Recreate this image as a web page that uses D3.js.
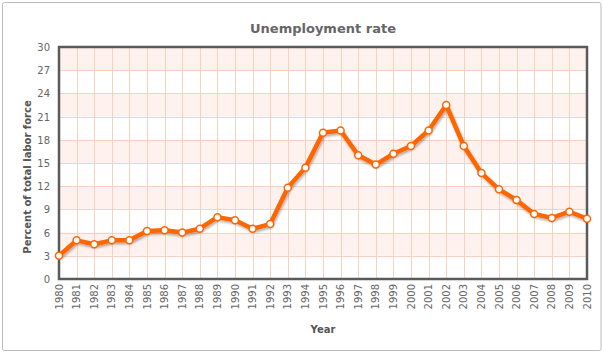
<!DOCTYPE html>
<html lang="en">
	<head>
		<meta charset="utf-8">
		<title>Unemployment rate</title>
		<script type="text/javascript" src="https://d3js.org/d3.v7.min.js"></script>
		<style type="text/css">
			body { margin: 0; background: #fff; }
			text { font-family: "DejaVu Sans", Verdana, sans-serif; }
			.tick-label { font-size: 10px; fill: #666; }
			.axis-title { font-size: 10px; font-weight: bold; fill: #555; }
			.title { font-size: 13px; font-weight: bold; fill: #666; }
		</style>
	</head>
	<body>
		<script type="text/javascript">

			// Data
			var years = [1980, 1981, 1982, 1983, 1984, 1985, 1986, 1987, 1988, 1989,
			             1990, 1991, 1992, 1993, 1994, 1995, 1996, 1997, 1998, 1999,
			             2000, 2001, 2002, 2003, 2004, 2005, 2006, 2007, 2008, 2009, 2010];
			var rates = [3.0, 5.0, 4.5, 5.0, 5.0, 6.2, 6.3, 6.0, 6.5, 8.0,
			             7.6, 6.5, 7.1, 11.8, 14.4, 18.9, 19.2, 16.0, 14.8, 16.2,
			             17.2, 19.2, 22.5, 17.2, 13.7, 11.6, 10.2, 8.4, 7.9, 8.7, 7.8];
			var yTicks = [0, 3, 6, 9, 12, 15, 18, 21, 24, 27, 30];

			var w = 604;
			var h = 352;
			var plot = {left: 59, right: 587, top: 47, bottom: 279};

			var x = d3.scaleLinear()
						.domain([years[0], years[years.length - 1]])
						.range([plot.left, plot.right]);
			var y = d3.scaleLinear()
						.domain([0, 30])
						.range([plot.bottom, plot.top]);

			var svg = d3.select("body")
						.append("svg")
						.attr("width", w)
						.attr("height", h);

			var defs = svg.append("defs");
			var shadow = defs.append("filter")
						.attr("id", "shadow")
						.attr("x", "-5%").attr("y", "-5%")
						.attr("width", "110%").attr("height", "120%");
			shadow.append("feGaussianBlur").attr("in", "SourceAlpha").attr("stdDeviation", 1.2);
			shadow.append("feOffset").attr("dx", 1).attr("dy", 2).attr("result", "off");
			shadow.append("feComponentTransfer").append("feFuncA").attr("type", "linear").attr("slope", 0.3);
			var merge = shadow.append("feMerge");
			merge.append("feMergeNode");
			merge.append("feMergeNode").attr("in", "SourceGraphic");

			//Outer border
			svg.append("rect")
				.attr("x", 2.5).attr("y", 2.5)
				.attr("width", 598.5).attr("height", 348)
				.attr("rx", 2)
				.attr("fill", "#fff")
				.attr("stroke", "#bbb");

			//Alternating bands
			svg.selectAll("rect.band")
				.data(yTicks.slice(0, -1).filter(function(d, i) { return i % 2 == 1; }))
				.enter()
				.append("rect")
				.attr("class", "band")
				.attr("x", plot.left)
				.attr("width", plot.right - plot.left)
				.attr("y", function(d) { return y(d + 3); })
				.attr("height", function(d) { return y(d) - y(d + 3); })
				.attr("fill", "#fff2ee");

			//Grid
			svg.selectAll("line.vgrid")
				.data(years)
				.enter()
				.append("line")
				.attr("x1", function(d) { return Math.round(x(d)) + 0.5; })
				.attr("x2", function(d) { return Math.round(x(d)) + 0.5; })
				.attr("y1", plot.top)
				.attr("y2", plot.bottom)
				.attr("stroke", "#f5d2c0")
				.attr("stroke-width", 1);

			svg.selectAll("line.hgrid")
				.data(yTicks)
				.enter()
				.append("line")
				.attr("x1", plot.left)
				.attr("x2", plot.right)
				.attr("y1", function(d) { return Math.round(y(d)) + 0.5; })
				.attr("y2", function(d) { return Math.round(y(d)) + 0.5; })
				.attr("stroke", "#f5d2c0")
				.attr("stroke-width", 1);

			//Frame
			svg.append("rect")
				.attr("x", plot.left).attr("y", plot.top)
				.attr("width", plot.right - plot.left)
				.attr("height", plot.bottom - plot.top)
				.attr("fill", "none")
				.attr("stroke", "#5a5a5a")
				.attr("stroke-width", 2.5);

			//Y tick labels
			svg.selectAll("text.ylab")
				.data(yTicks)
				.enter()
				.append("text")
				.attr("class", "tick-label")
				.attr("x", 50)
				.attr("y", function(d) { return y(d) + 4; })
				.attr("text-anchor", "end")
				.text(function(d) { return d; });

			//X tick labels
			svg.selectAll("text.xlab")
				.data(years)
				.enter()
				.append("text")
				.attr("class", "tick-label")
				.attr("transform", function(d) {
					return "translate(" + (x(d) + 3.5) + "," + 284 + ") rotate(-90)";
				})
				.attr("text-anchor", "end")
				.text(function(d) { return d; });

			//Titles
			svg.append("text")
				.attr("class", "title")
				.attr("x", (plot.left + plot.right) / 2)
				.attr("y", 33)
				.attr("text-anchor", "middle")
				.text("Unemployment rate");

			svg.append("text")
				.attr("class", "axis-title")
				.attr("x", (plot.left + plot.right) / 2)
				.attr("y", 333)
				.attr("text-anchor", "middle")
				.text("Year");

			svg.append("text")
				.attr("class", "axis-title")
				.attr("transform", "translate(31,177) rotate(-90)")
				.attr("text-anchor", "middle")
				.text("Percent of total labor force");

			//Line
			var line = d3.line()
						.x(function(d, i) { return x(years[i]); })
						.y(function(d) { return y(d); });

			svg.append("path")
				.datum(rates)
				.attr("d", line)
				.attr("fill", "none")
				.attr("stroke", "#ff6600")
				.attr("stroke-width", 4.5)
				.attr("stroke-linejoin", "round")
				.attr("filter", "url(#shadow)");

			svg.selectAll("circle.pt")
				.data(rates)
				.enter()
				.append("circle")
				.attr("cx", function(d, i) { return x(years[i]); })
				.attr("cy", function(d) { return y(d); })
				.attr("r", 3.5)
				.attr("fill", "#fff")
				.attr("stroke", "#ff6600")
				.attr("stroke-width", 1.5);

		</script>
	</body>
</html>
